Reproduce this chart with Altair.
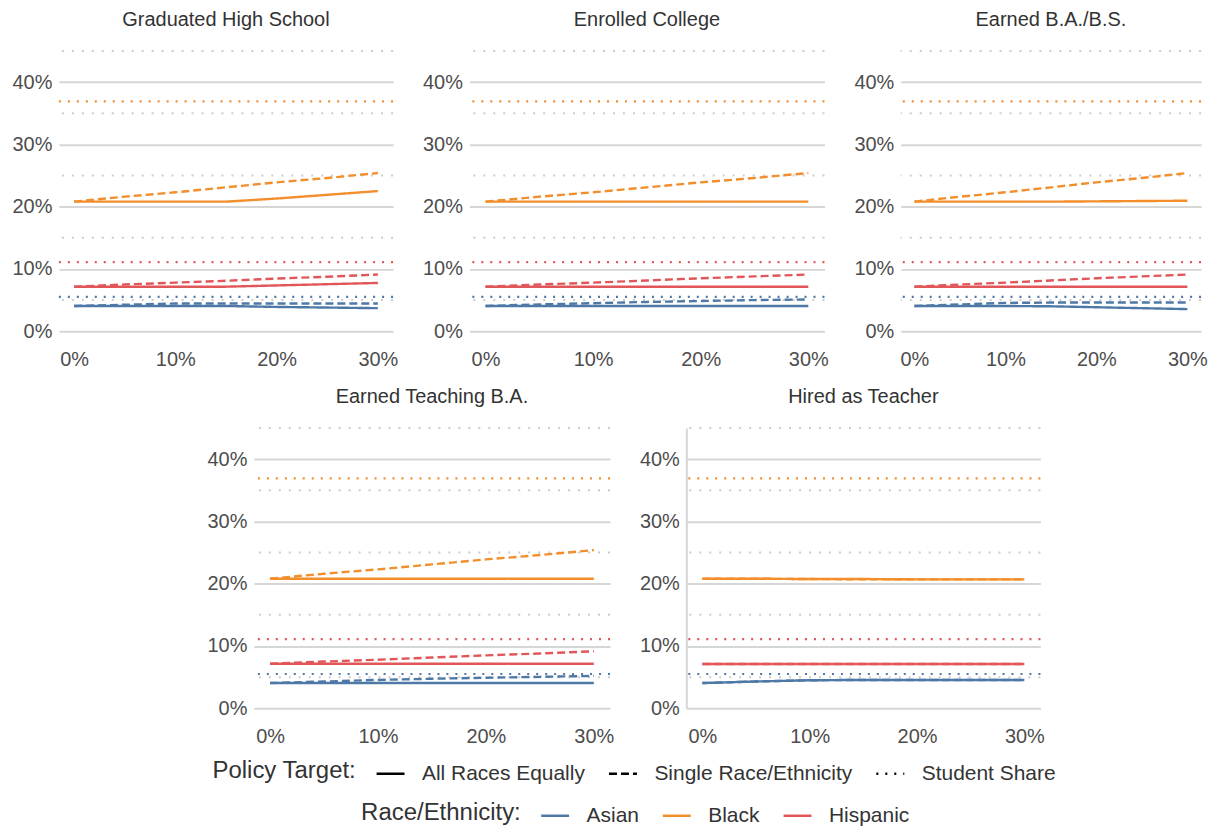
import altair as alt
import pandas as pd

# ---------------- data (percent) ----------------
policy_x = [0, 5, 10, 15, 20, 25, 30]
panels = ["Graduated High School", "Enrolled College", "Earned B.A./B.S.",
          "Earned Teaching B.A.", "Hired as Teacher"]
races = ["Asian", "Black", "Hispanic"]
targets = ["All Races Equally", "Single Race/Ethnicity", "Student Share"]
race_colors = ["#4e79a7", "#f28e2b", "#e15759"]

share_asian = 5.5
share_black = 36.9
share_hispanic = 11.1

ghs_asian_all = [4.05, 4.05, 4.05, 4.05, 3.9, 3.8, 3.7]
ghs_asian_single = [4.05, 4.25, 4.45, 4.45, 4.45, 4.45, 4.45]
ghs_black_all = [20.8, 20.8, 20.8, 20.8, 21.3, 21.9, 22.5]
ghs_black_single = [20.8, 21.6, 22.3, 23.1, 23.9, 24.6, 25.4]
ghs_hisp_all = [7.15, 7.15, 7.15, 7.15, 7.35, 7.55, 7.75]
ghs_hisp_single = [7.15, 7.5, 7.8, 8.1, 8.45, 8.75, 9.1]

ec_asian_all = [4.05, 4.05, 4.05, 4.05, 4.05, 4.05, 4.05]
ec_asian_single = [4.05, 4.3, 4.5, 4.7, 4.85, 5.0, 5.1]
ec_black_all = [20.8, 20.8, 20.8, 20.8, 20.8, 20.8, 20.8]
ec_black_single = [20.8, 21.6, 22.3, 23.1, 23.9, 24.6, 25.4]
ec_hisp_all = [7.15, 7.15, 7.15, 7.15, 7.15, 7.15, 7.15]
ec_hisp_single = [7.15, 7.5, 7.8, 8.15, 8.5, 8.8, 9.1]

ba_asian_all = [4.05, 4.05, 4.05, 4.0, 3.85, 3.7, 3.55]
ba_asian_single = [4.05, 4.3, 4.55, 4.6, 4.6, 4.6, 4.6]
ba_black_all = [20.8, 20.8, 20.8, 20.8, 20.85, 20.9, 20.95]
ba_black_single = [20.8, 21.6, 22.3, 23.1, 23.9, 24.6, 25.4]
ba_hisp_all = [7.15, 7.15, 7.15, 7.15, 7.15, 7.15, 7.15]
ba_hisp_single = [7.15, 7.5, 7.8, 8.15, 8.5, 8.8, 9.1]

tba_asian_all = [4.05, 4.05, 4.05, 4.05, 4.05, 4.05, 4.05]
tba_asian_single = [4.05, 4.3, 4.55, 4.75, 4.9, 5.05, 5.2]
tba_black_all = [20.8, 20.8, 20.8, 20.8, 20.8, 20.8, 20.8]
tba_black_single = [20.8, 21.6, 22.3, 23.1, 23.9, 24.6, 25.4]
tba_hisp_all = [7.15, 7.15, 7.15, 7.15, 7.15, 7.15, 7.15]
tba_hisp_single = [7.15, 7.5, 7.8, 8.15, 8.5, 8.8, 9.15]

ht_asian_all = [4.05, 4.3, 4.5, 4.55, 4.55, 4.55, 4.55]
ht_asian_single = [4.05, 4.3, 4.5, 4.55, 4.55, 4.55, 4.55]
ht_black_all = [20.8, 20.8, 20.75, 20.75, 20.7, 20.7, 20.7]
ht_black_single = [20.8, 20.8, 20.75, 20.7, 20.7, 20.7, 20.7]
ht_hisp_all = [7.1, 7.1, 7.1, 7.1, 7.1, 7.1, 7.1]
ht_hisp_single = [7.1, 7.1, 7.1, 7.1, 7.1, 7.1, 7.1]

minor_grid = [5, 15, 25, 35, 45]

# ---------------- tables ----------------
series = {
    panels[0]: [ghs_asian_all, ghs_asian_single, ghs_black_all, ghs_black_single, ghs_hisp_all, ghs_hisp_single],
    panels[1]: [ec_asian_all, ec_asian_single, ec_black_all, ec_black_single, ec_hisp_all, ec_hisp_single],
    panels[2]: [ba_asian_all, ba_asian_single, ba_black_all, ba_black_single, ba_hisp_all, ba_hisp_single],
    panels[3]: [tba_asian_all, tba_asian_single, tba_black_all, tba_black_single, tba_hisp_all, tba_hisp_single],
    panels[4]: [ht_asian_all, ht_asian_single, ht_black_all, ht_black_single, ht_hisp_all, ht_hisp_single],
}
rows = []
for p, lists in series.items():
    k = 0
    for r in races:
        for t in targets[:2]:
            for xv, yv in zip(policy_x, lists[k]):
                rows.append({"panel": p, "race": r, "target": t, "x": xv / 100, "y": yv / 100})
            k += 1
lines_df = pd.DataFrame(rows)

share_df = pd.DataFrame({
    "race": races,
    "target": [targets[2]] * 3,
    "y": [share_asian / 100, share_black / 100, share_hispanic / 100],
})
minor_df = pd.DataFrame({"y": [v / 100 for v in minor_grid]})

FONT = "Liberation Sans"

color_enc = alt.Color(
    "race:N",
    scale=alt.Scale(domain=races, range=race_colors),
    legend=alt.Legend(
        title="Race/Ethnicity:", orient="none", legendX=303, legendY=751,
        direction="horizontal", titleOrient="left",
    ),
)
dash_enc = alt.StrokeDash(
    "target:N",
    scale=alt.Scale(domain=targets, range=[[1, 0], [8, 4], [2, 7]]),
    legend=alt.Legend(
        title="Policy Target:", orient="none", legendX=154, legendY=709,
        direction="horizontal", titleOrient="left", symbolStrokeColor="black",
    ),
)

x_scale = alt.Scale(domain=[-0.015, 0.315], nice=False, zero=False)
y_scale = alt.Scale(domain=[0, 0.45], nice=False, zero=False)


def panel(name, width, show_domain=False):
    y_axis = alt.Axis(values=[0, 0.1, 0.2, 0.3, 0.4], format=".0%", title=None,
                      grid=True, gridColor="#d6d6d6", gridWidth=2,
                      domain=show_domain, domainColor="#d6d6d6", domainWidth=2,
                      ticks=False, labelPadding=7)
    x_axis = alt.Axis(values=[0, 0.1, 0.2, 0.3], format=".0%", title=None,
                      grid=False, domain=False, ticks=False, labelPadding=18)
    yenc = alt.Y("y:Q", scale=y_scale, axis=y_axis)
    minor = alt.Chart(minor_df).mark_rule(
        strokeDash=[2, 8], color="#cccccc", strokeWidth=2
    ).encode(y=yenc)
    share = alt.Chart(share_df).mark_rule(strokeWidth=2.2).encode(
        y=yenc, color=color_enc, strokeDash=dash_enc)
    d = lines_df[lines_df["panel"] == name]
    lines = alt.Chart(d).mark_line(strokeWidth=2.4).encode(
        x=alt.X("x:Q", scale=x_scale, axis=x_axis),
        y=yenc, color=color_enc, strokeDash=dash_enc)
    return alt.layer(minor, share, lines).properties(
        width=width, height=281,
        title=alt.TitleParams(name, fontSize=20, font=FONT, fontWeight="normal",
                              color="#333333", baseline="alphabetic", offset=4),
    )


spacer = alt.Chart(pd.DataFrame({"v": [0]})).mark_point(opacity=0).encode(
    x=alt.X("v:Q", axis=None), y=alt.Y("v:Q", axis=None)
).properties(width=118.5, height=281)

top_row = alt.HConcatChart(
    hconcat=[panel(panels[0], 335), panel(panels[1], 356), panel(panels[2], 301)],
    spacing=76.5, bounds="flush",
)
bottom_row = alt.HConcatChart(
    hconcat=[spacer, panel(panels[3], 357), panel(panels[4], 355, True)],
    spacing=76.5, bounds="flush",
)

chart = alt.VConcatChart(
    vconcat=[top_row, bottom_row], spacing=16,
).resolve_scale(color="shared", strokeDash="shared").properties(
    padding={"left": 3, "top": 0, "right": 5, "bottom": 5}, background="white"
).configure_view(stroke="transparent").configure_axis(
    labelFont=FONT, labelFontSize=20, labelColor="#4d4d4d"
).configure_legend(
    titleFont=FONT, titleFontSize=24, titleFontWeight="normal", titleColor="#333333",
    labelFont=FONT, labelFontSize=21, labelColor="#333333", labelLimit=400, titleLimit=400,
    symbolType="stroke", symbolSize=784, symbolStrokeWidth=2.5,
    titlePadding=18, labelOffset=16, columnPadding=18, titleBaseline="middle",
)

chart.save("out.html", embed_options={"renderer": "svg", "actions": False})
